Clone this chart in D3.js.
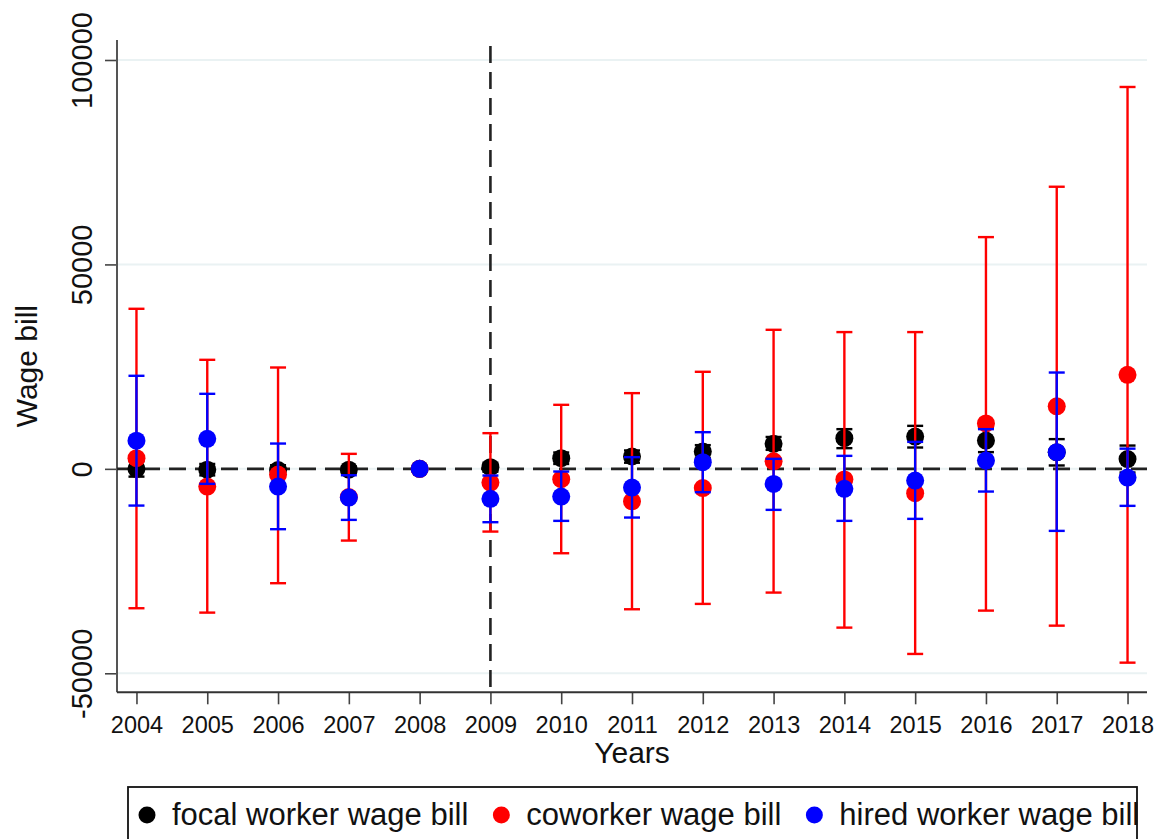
<!DOCTYPE html>
<html>
<head>
<meta charset="utf-8">
<script src="https://cdn.jsdelivr.net/npm/d3@7"></script>
<style>
  html, body { margin: 0; padding: 0; background: #fff; }
  svg { display: block; font-family: "Liberation Sans", Arial, sans-serif; }
</style>
</head>
<body>
<svg id="chart" width="1162" height="839"></svg>
<script>
// Event-study estimates with 95% confidence intervals (reference year 2008)
const years = [2004, 2005, 2006, 2007, 2008, 2009, 2010, 2011, 2012, 2013, 2014, 2015, 2016, 2017, 2018];

const focalMean = [0, -200, -300, -200, 0, 410, 2610, 3020, 4240, 6120, 7510, 7910, 6930, 4050, 2400];
const focalLo   = [-1900, -1600, -1500, -1000, 0, -700, 1200, 1500, 2700, 4650, 5060, 5220, 4090, 830, -900];
const focalHi   = [1900, 1200, 900, 600, 0, 1500, 4000, 4500, 5800, 7800, 9710, 10520, 9960, 7270, 5700];

const coworkerMean = [2620, -4330, -1400, -6900, 0, -3350, -2530, -7950, -4700, 1850, -2600, -5950, 11100, 15300, 23000];
const coworkerLo   = [-34090, -35160, -27970, -17540, 0, -15340, -20640, -34340, -33030, -30260, -38830, -45270, -34670, -38350, -47400];
const coworkerHi   = [39150, 26670, 24790, 3670, 0, 8730, 15660, 18520, 23740, 34010, 33450, 33450, 56680, 69000, 93400];

const hiredMean = [6900, 7340, -4330, -7020, 0, -7340, -6770, -4570, 1630, -3700, -4890, -2860, 2030, 4090, -2120];
const hiredLo   = [-8980, -3670, -14760, -12480, 0, -13050, -12720, -11910, -5710, -10030, -12720, -12230, -5550, -15170, -9050];
const hiredHi   = [22760, 18350, 6190, -1560, 0, -1630, -650, 2860, 8970, 2450, 3180, 6600, 9710, 23560, 4940];

const yTicks = [-50000, 0, 50000, 100000];
const seriesNames = ["focal worker wage bill", "coworker wage bill", "hired worker wage bill"];
const seriesColors = ["#000000", "#ff0000", "#0000ff"];
const treatmentYear = 2009;

const series = [
  { mean: focalMean, lo: focalLo, hi: focalHi },
  { mean: coworkerMean, lo: coworkerLo, hi: coworkerHi },
  { mean: hiredMean, lo: hiredLo, hi: hiredHi }
].map((s, i) => ({
  name: seriesNames[i],
  color: seriesColors[i],
  rows: years.map((yr, j) => ({ year: yr, mean: s.mean[j], lo: s.lo[j], hi: s.hi[j] }))
}));

const svg = d3.select("#chart");
const plot = { left: 117, right: 1147, top: 40, bottom: 692.3 };

const x = d3.scaleLinear().domain([2003.725, 2018.275]).range([plot.left, plot.right]);
const y = d3.scaleLinear().domain([-54650, 104890]).range([plot.bottom, plot.top]);

// light horizontal gridlines
svg.append("g").selectAll("line")
  .data(yTicks)
  .join("line")
  .attr("x1", plot.left).attr("x2", plot.right)
  .attr("y1", d => y(d)).attr("y2", d => y(d))
  .attr("stroke", "#eaf2f3").attr("stroke-width", 2);

// y axis (plain hyphen for negative labels)
const yAxis = svg.append("g")
  .attr("transform", `translate(${plot.left},0)`)
  .call(d3.axisLeft(y).tickValues(yTicks).tickSize(12).tickSizeOuter(0).tickFormat(d => String(d)));
yAxis.select(".domain").remove();
yAxis.selectAll(".tick line").attr("stroke", "#444").attr("stroke-width", 1.6);
yAxis.selectAll(".tick text")
  .attr("font-size", 29)
  .attr("fill", "#111")
  .attr("text-anchor", "middle")
  .attr("dy", 0)
  .attr("x", 0)
  .attr("y", 0)
  .attr("transform", "translate(-25,0) rotate(-90)");
svg.append("line")
  .attr("x1", plot.left).attr("x2", plot.left)
  .attr("y1", plot.top).attr("y2", plot.bottom)
  .attr("stroke", "#555").attr("stroke-width", 2);

// x axis
const xAxis = svg.append("g")
  .attr("transform", `translate(0,${plot.bottom})`)
  .call(d3.axisBottom(x).tickValues(years).tickSize(12).tickSizeOuter(0).tickFormat(d3.format("d")));
xAxis.select(".domain").remove();
xAxis.selectAll(".tick line").attr("stroke", "#444").attr("stroke-width", 1.6);
xAxis.selectAll(".tick text")
  .attr("font-size", 23.5)
  .attr("fill", "#111")
  .attr("dy", 0)
  .attr("y", 41);
svg.append("line")
  .attr("x1", plot.left).attr("x2", plot.right)
  .attr("y1", plot.bottom).attr("y2", plot.bottom)
  .attr("stroke", "#333").attr("stroke-width", 2);

// axis titles
svg.append("text")
  .attr("x", (plot.left + plot.right) / 2)
  .attr("y", 763)
  .attr("text-anchor", "middle")
  .attr("font-size", 30)
  .attr("fill", "#111")
  .text("Years");
svg.append("text")
  .attr("transform", `translate(36.5,${(plot.top + plot.bottom) / 2}) rotate(-90)`)
  .attr("text-anchor", "middle")
  .attr("font-size", 30)
  .attr("fill", "#111")
  .text("Wage bill");

// reference lines: zero and treatment year
svg.append("line")
  .attr("x1", plot.left).attr("x2", plot.right)
  .attr("y1", y(0)).attr("y2", y(0))
  .attr("stroke", "#222").attr("stroke-width", 2.6)
  .attr("stroke-dasharray", "17,9");
svg.append("line")
  .attr("x1", x(treatmentYear)).attr("x2", x(treatmentYear))
  .attr("y1", y(y.domain()[1])).attr("y2", plot.bottom)
  .attr("stroke", "#222").attr("stroke-width", 2.6)
  .attr("stroke-dasharray", "17,9")
  .attr("stroke-dashoffset", -6);

// confidence intervals and point estimates, one layer per series
const capHalf = 8;
const radius = 9;
series.forEach(s => {
  const g = svg.append("g");
  const bars = s.rows.filter(d => d.hi !== d.lo);
  g.selectAll("line.ci")
    .data(bars).join("line")
    .attr("class", "ci")
    .attr("x1", d => x(d.year)).attr("x2", d => x(d.year))
    .attr("y1", d => y(d.lo)).attr("y2", d => y(d.hi))
    .attr("stroke", s.color).attr("stroke-width", 2.4);
  g.selectAll("line.caphi")
    .data(bars).join("line")
    .attr("class", "caphi")
    .attr("x1", d => x(d.year) - capHalf).attr("x2", d => x(d.year) + capHalf)
    .attr("y1", d => y(d.hi)).attr("y2", d => y(d.hi))
    .attr("stroke", s.color).attr("stroke-width", 2.4);
  g.selectAll("line.caplo")
    .data(bars).join("line")
    .attr("class", "caplo")
    .attr("x1", d => x(d.year) - capHalf).attr("x2", d => x(d.year) + capHalf)
    .attr("y1", d => y(d.lo)).attr("y2", d => y(d.lo))
    .attr("stroke", s.color).attr("stroke-width", 2.4);
  g.selectAll("circle")
    .data(s.rows).join("circle")
    .attr("cx", d => x(d.year))
    .attr("cy", d => y(d.mean))
    .attr("r", radius)
    .attr("fill", s.color);
});

// legend
const legend = svg.append("g");
legend.append("rect")
  .attr("x", 128).attr("y", 787)
  .attr("width", 1009).attr("height", 80)
  .attr("fill", "#fff").attr("stroke", "#111").attr("stroke-width", 1.8);
let lx = 147;
series.forEach(s => {
  legend.append("circle")
    .attr("cx", lx).attr("cy", 815).attr("r", 8.5)
    .attr("fill", s.color);
  const t = legend.append("text")
    .attr("x", lx + 25).attr("y", 825)
    .attr("font-size", 31)
    .attr("fill", "#111")
    .text(s.name);
  lx += 25 + t.node().getComputedTextLength() + 33;
});
</script>
</body>
</html>
